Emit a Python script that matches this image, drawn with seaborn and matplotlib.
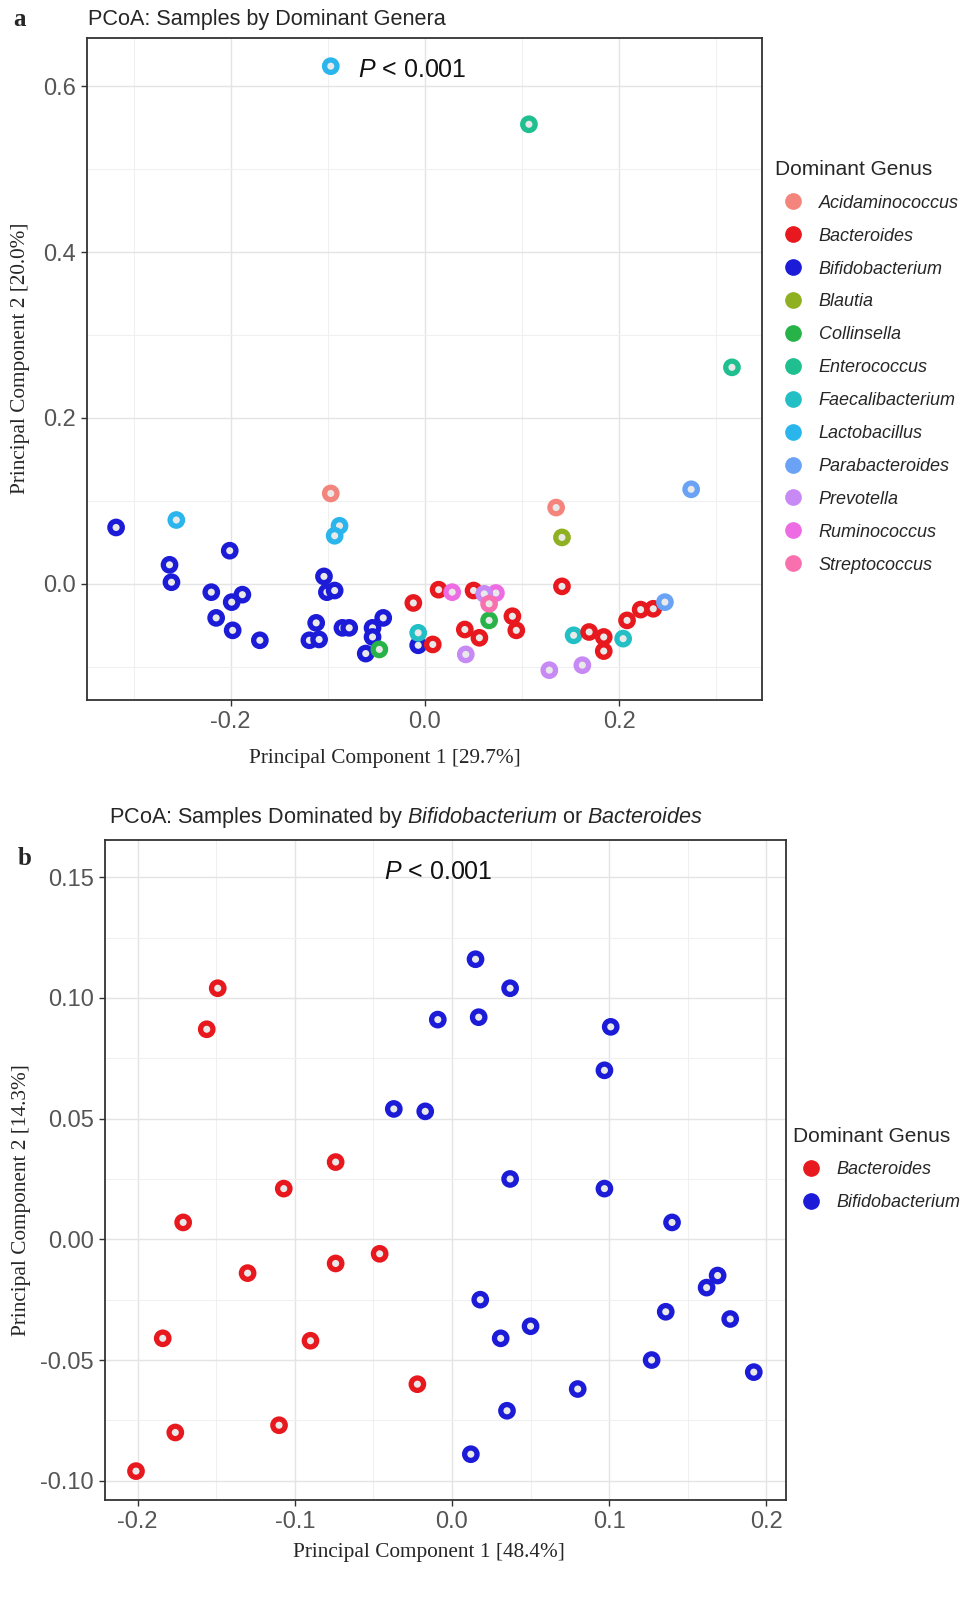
import matplotlib
matplotlib.use("Agg")
import numpy as np
import pandas as pd
import seaborn as sns
from matplotlib import pyplot as plt
from matplotlib.lines import Line2D

# === data: panel a (all dominant genera) ===
genera = ["Acidaminococcus", "Bacteroides", "Bifidobacterium", "Blautia", "Collinsella",
          "Enterococcus", "Faecalibacterium", "Lactobacillus", "Parabacteroides",
          "Prevotella", "Ruminococcus", "Streptococcus"]
genus_colors = ["#F4857D", "#E8191E", "#1C1CD8", "#8FB021", "#27B348", "#1FBF8F",
                "#22BFC5", "#2AB6EC", "#6AA2F6", "#C78AF5", "#EE6CE3", "#F871AE"]

pc1_a = [-0.318, -0.201, -0.263, -0.261, -0.220, -0.188, -0.199, -0.215, -0.198, -0.170,
         -0.104, -0.101, -0.093, -0.112, -0.119, -0.109, -0.085, -0.078, -0.054, -0.054,
         -0.043, -0.061, -0.007,
         -0.256, -0.088, -0.093, -0.097,
         -0.097, 0.135,
         -0.047, 0.066,
         -0.007, 0.153, 0.204,
         -0.012, 0.008, 0.014, 0.050, 0.090, 0.094, 0.041, 0.056, 0.141, 0.169, 0.184,
         0.184, 0.208, 0.222, 0.235,
         0.028, 0.073,
         0.061, 0.042, 0.128, 0.162,
         0.066,
         0.141,
         0.107, 0.316,
         0.247, 0.274]
pc2_a = [0.068, 0.040, 0.023, 0.002, -0.010, -0.013, -0.022, -0.041, -0.056, -0.068,
         0.009, -0.010, -0.008, -0.047, -0.068, -0.067, -0.053, -0.053, -0.053, -0.064,
         -0.041, -0.084, -0.074,
         0.077, 0.070, 0.058, 0.624,
         0.109, 0.092,
         -0.079, -0.044,
         -0.059, -0.062, -0.066,
         -0.023, -0.073, -0.007, -0.008, -0.039, -0.056, -0.055, -0.065, -0.003, -0.058,
         -0.064, -0.081, -0.044, -0.031, -0.030,
         -0.010, -0.011,
         -0.012, -0.085, -0.104, -0.098,
         -0.024,
         0.056,
         0.554, 0.261,
         -0.022, 0.114]
genus_a = (["Bifidobacterium"] * 23 + ["Lactobacillus"] * 4 + ["Acidaminococcus"] * 2
           + ["Collinsella"] * 2 + ["Faecalibacterium"] * 3 + ["Bacteroides"] * 15
           + ["Ruminococcus"] * 2 + ["Prevotella"] * 4 + ["Streptococcus"]
           + ["Blautia"] + ["Enterococcus"] * 2 + ["Parabacteroides"] * 2)

# === data: panel b (Bifidobacterium vs Bacteroides) ===
pc1_b = [-0.149, -0.156, -0.074, -0.107, -0.171, -0.046, -0.074, -0.130, -0.184, -0.090,
         -0.022, -0.110, -0.176, -0.201,
         0.015, 0.037, 0.017, -0.009, 0.101, 0.097, -0.037, -0.017, 0.037, 0.097, 0.140,
         0.169, 0.162, 0.018, 0.136, 0.177, 0.050, 0.031, 0.127, 0.192, 0.080, 0.035, 0.012]
pc2_b = [0.104, 0.087, 0.032, 0.021, 0.007, -0.006, -0.010, -0.014, -0.041, -0.042,
         -0.060, -0.077, -0.080, -0.096,
         0.116, 0.104, 0.092, 0.091, 0.088, 0.070, 0.054, 0.053, 0.025, 0.021, 0.007,
         -0.015, -0.020, -0.025, -0.030, -0.033, -0.036, -0.041, -0.050, -0.055, -0.062,
         -0.071, -0.089]
genus_b = ["Bacteroides"] * 14 + ["Bifidobacterium"] * 23

palette = dict(zip(genera, genus_colors))
df_a = pd.DataFrame({"PC1": pc1_a, "PC2": pc2_a, "Genus": genus_a})
df_b = pd.DataFrame({"PC1": pc1_b, "PC2": pc2_b, "Genus": genus_b})

sns.set_style("whitegrid")
plt.rcParams["font.family"] = ["Liberation Sans", "DejaVu Sans"]
plt.rcParams["mathtext.fontset"] = "custom"
plt.rcParams["mathtext.rm"] = "Liberation Sans"
plt.rcParams["mathtext.it"] = "Liberation Sans:italic"
plt.rcParams["axes.unicode_minus"] = False

SERIF = "Liberation Serif"
fig = plt.figure(figsize=(9.77, 16.03), dpi=100)
ax_a = fig.add_axes([0.089, 0.5633, 0.691, 0.4130])
ax_b = fig.add_axes([0.1075, 0.0642, 0.697, 0.4118])


def style_axes(ax, xmaj, xmin, ymaj, ymin, xlab, ylab):
    ax.set_xticks(xmaj)
    ax.set_xticks(xmin, minor=True)
    ax.set_yticks(ymaj)
    ax.set_yticks(ymin, minor=True)
    ax.set_xticklabels(xlab)
    ax.set_yticklabels(ylab)
    ax.grid(which="major", color="#E4E4E4", linewidth=1.0)
    ax.grid(which="minor", color="#F0F0F0", linewidth=0.8)
    ax.set_axisbelow(True)
    for sp in ax.spines.values():
        sp.set_color("#333333")
        sp.set_linewidth(1.3)
    ax.tick_params(which="major", length=4, width=1, color="#333333",
                   labelsize=17, labelcolor="#555555", pad=4,
                   bottom=True, left=True)
    ax.tick_params(which="minor", length=0)
    ax.set_xlabel("")
    ax.set_ylabel("")


def draw_points(ax, df):
    sns.scatterplot(data=df, x="PC1", y="PC2", hue="Genus", palette=palette, ax=ax,
                    s=80, linewidth=3.8, legend=False)
    # ring look: light centre, coloured edge
    coll = ax.collections[-1]
    coll.set_edgecolors([palette[g] for g in df["Genus"]])
    coll.set_facecolors("#E9E9E9")


def add_legend(ax, names, anchor):
    handles = [Line2D([], [], ls="", marker="o", markersize=11,
                      markerfacecolor=palette[g], markeredgecolor=palette[g])
               for g in names]
    leg = ax.legend(handles, names, title="Dominant Genus", loc="upper left",
                    bbox_to_anchor=anchor, frameon=False,
                    prop={"style": "italic", "size": 13}, labelspacing=0.88,
                    handletextpad=0.45, borderaxespad=0.3, alignment="left")
    leg.get_title().set_fontsize(15)
    return leg


# === panel a ===
draw_points(ax_a, df_a)
ax_a.set_xlim(-0.348, 0.347)
ax_a.set_ylim(-0.140, 0.658)
style_axes(ax_a, [-0.2, 0.0, 0.2], [-0.3, -0.1, 0.1, 0.3],
           [0.0, 0.2, 0.4, 0.6], [-0.1, 0.1, 0.3, 0.5],
           ["-0.2", "0.0", "0.2"], ["0.0", "0.2", "0.4", "0.6"])
ax_a.text(-0.013, 0.620, r"$P$ < 0.001", fontsize=18, ha="center", va="center",
          color="#111111")
add_legend(ax_a, genera, (1.0, 0.835))

# === panel b ===
draw_points(ax_b, df_b)
ax_b.set_xlim(-0.2207, 0.2125)
ax_b.set_ylim(-0.108, 0.1654)
style_axes(ax_b, [-0.2, -0.1, 0.0, 0.1, 0.2], [-0.15, -0.05, 0.05, 0.15],
           [-0.10, -0.05, 0.0, 0.05, 0.10, 0.15], [-0.075, -0.025, 0.025, 0.075, 0.125],
           ["-0.2", "-0.1", "0.0", "0.1", "0.2"],
           ["-0.10", "-0.05", "0.00", "0.05", "0.10", "0.15"])
ax_b.text(-0.009, 0.152, r"$P$ < 0.001", fontsize=18, ha="center", va="center",
          color="#111111")
add_legend(ax_b, ["Bacteroides", "Bifidobacterium"], (0.991, 0.585))

# === titles, axis labels, panel letters ===
fig.text(88 / 977, 1 - 19 / 1603, "PCoA: Samples by Dominant Genera", fontsize=15.6,
         ha="left", va="center")
fig.text(109 / 977, 1 - 817 / 1603,
         r"PCoA: Samples Dominated by $\mathit{Bifidobacterium}$ or $\mathit{Bacteroides}$",
         fontsize=15.6, ha="left", va="center")
fig.text(20 / 977, 1 - 20 / 1603, "a", family=SERIF, fontweight="bold", fontsize=18,
         ha="center", va="center")
fig.text(25 / 977, 1 - 858 / 1603, "b", family=SERIF, fontweight="bold", fontsize=18,
         ha="center", va="center")

fig.text(385 / 977, 1 - 758 / 1603, "Principal Component 1 [29.7%]", family=SERIF,
         fontsize=15.3, ha="center", va="center")
fig.text(21 / 977, 1 - 358 / 1603, "Principal Component 2 [20.0%]", family=SERIF,
         fontsize=15.3, ha="center", va="center", rotation=90)
fig.text(429 / 977, 1 - 1552 / 1603, "Principal Component 1 [48.4%]", family=SERIF,
         fontsize=15.3, ha="center", va="center")
fig.text(22 / 977, 1 - 1200 / 1603, "Principal Component 2 [14.3%]", family=SERIF,
         fontsize=15.3, ha="center", va="center", rotation=90)

fig.savefig("out.png", dpi=100)
